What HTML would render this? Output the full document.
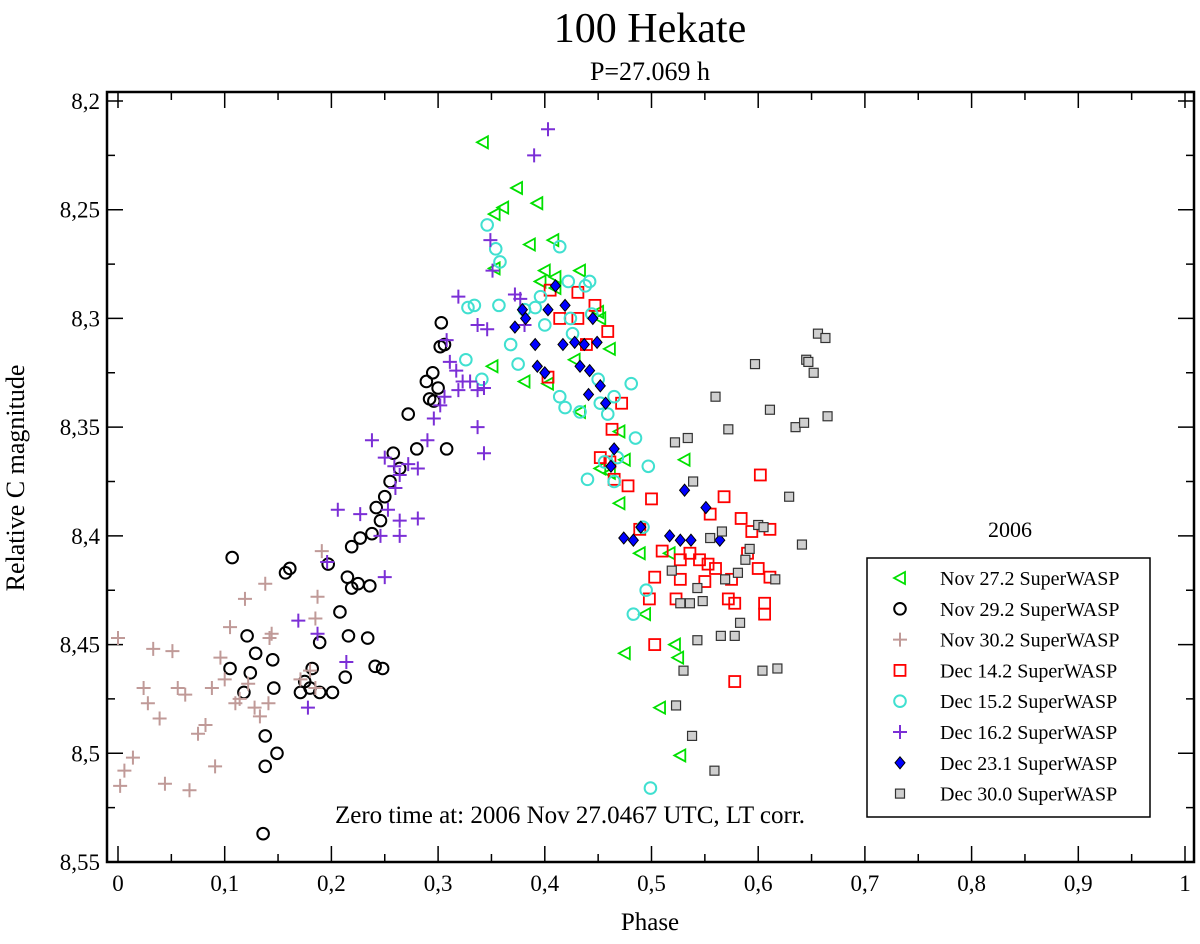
<!DOCTYPE html>
<html><head><meta charset="utf-8"><style>
html,body{margin:0;padding:0;background:#fff;}
svg text{font-family:"Liberation Serif",serif;fill:#000;}
</style></head><body>
<svg id="chart" width="1200" height="939" viewBox="0 0 1200 939" xmlns="http://www.w3.org/2000/svg">
<text x="650" y="42" font-size="42" text-anchor="middle">100 Hekate</text>
<text x="650" y="80" font-size="26" text-anchor="middle">P=27.069 h</text>
<text transform="translate(24,478) rotate(-90)" font-size="26" text-anchor="middle">Relative C magnitude</text>
<text x="650" y="930" font-size="25" text-anchor="middle">Phase</text>
<g id="axes"></g>
<g id="marks"></g>
<text x="570" y="823" font-size="25" text-anchor="middle">Zero time at: 2006 Nov 27.0467 UTC, LT corr.</text>
<text x="1010" y="537" font-size="22" text-anchor="middle">2006</text>
<rect x="867" y="558" width="283" height="259" fill="#fff" stroke="#000" stroke-width="1.5"/>
<g id="legend"></g>
</svg>
<script>
const xTicks=[0,0.1,0.2,0.3,0.4,0.5,0.6,0.7,0.8,0.9,1];
const xTickLabels=["0","0,1","0,2","0,3","0,4","0,5","0,6","0,7","0,8","0,9","1"];
const yTicks=[8.2,8.25,8.3,8.35,8.4,8.45,8.5,8.55];
const yTickLabels=["8,2","8,25","8,3","8,35","8,4","8,45","8,5","8,55"];
const seriesNames=["Nov 27.2 SuperWASP","Nov 29.2 SuperWASP","Nov 30.2 SuperWASP","Dec 14.2 SuperWASP","Dec 15.2 SuperWASP","Dec 16.2 SuperWASP","Dec 23.1 SuperWASP","Dec 30.0 SuperWASP"];
const nov27=[[0.342,8.219],[0.374,8.240],[0.361,8.249],[0.393,8.247],[0.353,8.252],[0.386,8.266],[0.408,8.264],[0.353,8.277],[0.400,8.278],[0.433,8.278],[0.396,8.283],[0.410,8.281],[0.410,8.286],[0.450,8.297],[0.452,8.300],[0.461,8.314],[0.381,8.329],[0.351,8.322],[0.428,8.319],[0.403,8.330],[0.433,8.343],[0.470,8.352],[0.452,8.369],[0.461,8.371],[0.475,8.365],[0.531,8.365],[0.470,8.385],[0.489,8.408],[0.517,8.408],[0.494,8.436],[0.522,8.450],[0.525,8.456],[0.475,8.454],[0.508,8.479],[0.527,8.501]];
const nov29=[[0.107,8.410],[0.121,8.446],[0.105,8.461],[0.129,8.454],[0.124,8.463],[0.145,8.457],[0.146,8.470],[0.118,8.472],[0.138,8.492],[0.149,8.500],[0.138,8.506],[0.157,8.417],[0.161,8.415],[0.171,8.472],[0.180,8.470],[0.189,8.472],[0.201,8.472],[0.182,8.461],[0.175,8.467],[0.189,8.449],[0.197,8.413],[0.208,8.435],[0.213,8.465],[0.216,8.446],[0.234,8.447],[0.241,8.460],[0.248,8.461],[0.219,8.405],[0.227,8.401],[0.238,8.399],[0.242,8.387],[0.246,8.393],[0.250,8.382],[0.255,8.375],[0.258,8.362],[0.264,8.369],[0.272,8.344],[0.280,8.360],[0.289,8.329],[0.292,8.337],[0.295,8.325],[0.296,8.338],[0.300,8.332],[0.302,8.313],[0.303,8.302],[0.306,8.312],[0.308,8.360],[0.136,8.537],[0.215,8.419],[0.219,8.424],[0.225,8.422],[0.236,8.423]];
const nov30=[[0,8.447],[0.002,8.515],[0.006,8.508],[0.014,8.502],[0.024,8.470],[0.028,8.477],[0.033,8.452],[0.039,8.484],[0.044,8.514],[0.051,8.453],[0.056,8.470],[0.063,8.473],[0.067,8.517],[0.075,8.491],[0.082,8.487],[0.088,8.470],[0.091,8.506],[0.096,8.456],[0.100,8.466],[0.105,8.442],[0.110,8.477],[0.114,8.475],[0.119,8.429],[0.122,8.468],[0.128,8.479],[0.133,8.483],[0.138,8.422],[0.142,8.447],[0.144,8.445],[0.141,8.477],[0.180,8.462],[0.187,8.428],[0.191,8.407],[0.185,8.438],[0.171,8.466],[0.185,8.470]];
const dec14=[[0.405,8.287],[0.431,8.288],[0.414,8.300],[0.431,8.300],[0.447,8.294],[0.459,8.306],[0.439,8.312],[0.403,8.327],[0.472,8.339],[0.463,8.351],[0.452,8.364],[0.461,8.366],[0.465,8.374],[0.478,8.377],[0.500,8.383],[0.489,8.397],[0.510,8.407],[0.503,8.419],[0.527,8.411],[0.536,8.408],[0.545,8.411],[0.553,8.413],[0.560,8.415],[0.527,8.420],[0.550,8.421],[0.575,8.420],[0.498,8.429],[0.523,8.429],[0.555,8.390],[0.568,8.382],[0.572,8.429],[0.578,8.431],[0.584,8.392],[0.594,8.398],[0.590,8.408],[0.602,8.372],[0.600,8.415],[0.606,8.431],[0.606,8.436],[0.611,8.419],[0.503,8.450],[0.578,8.467],[0.611,8.397]];
const dec15=[[0.346,8.257],[0.354,8.268],[0.358,8.274],[0.328,8.295],[0.334,8.294],[0.357,8.294],[0.326,8.319],[0.341,8.328],[0.368,8.312],[0.375,8.321],[0.381,8.296],[0.391,8.295],[0.396,8.290],[0.400,8.303],[0.414,8.267],[0.422,8.283],[0.438,8.285],[0.442,8.283],[0.444,8.298],[0.424,8.300],[0.426,8.307],[0.419,8.341],[0.433,8.343],[0.452,8.339],[0.450,8.328],[0.459,8.344],[0.465,8.336],[0.481,8.330],[0.485,8.355],[0.456,8.366],[0.468,8.364],[0.497,8.368],[0.465,8.375],[0.440,8.374],[0.492,8.396],[0.495,8.425],[0.483,8.436],[0.499,8.516],[0.414,8.336]];
const dec16=[[0.403,8.213],[0.390,8.225],[0.349,8.264],[0.351,8.278],[0.319,8.290],[0.337,8.303],[0.346,8.305],[0.372,8.289],[0.377,8.291],[0.381,8.303],[0.308,8.310],[0.311,8.320],[0.317,8.324],[0.323,8.329],[0.330,8.329],[0.337,8.333],[0.343,8.332],[0.319,8.333],[0.306,8.336],[0.302,8.340],[0.296,8.346],[0.290,8.356],[0.281,8.369],[0.272,8.367],[0.264,8.372],[0.260,8.378],[0.337,8.350],[0.343,8.362],[0.238,8.356],[0.250,8.364],[0.259,8.368],[0.206,8.388],[0.227,8.390],[0.253,8.388],[0.264,8.393],[0.281,8.392],[0.264,8.400],[0.246,8.400],[0.250,8.419],[0.196,8.412],[0.169,8.439],[0.187,8.445],[0.214,8.458],[0.178,8.479]];
const dec23=[[0.379,8.296],[0.382,8.300],[0.372,8.304],[0.391,8.312],[0.403,8.296],[0.410,8.285],[0.419,8.294],[0.417,8.312],[0.428,8.311],[0.437,8.312],[0.445,8.300],[0.449,8.311],[0.393,8.322],[0.400,8.325],[0.433,8.322],[0.442,8.324],[0.452,8.331],[0.457,8.339],[0.441,8.335],[0.465,8.360],[0.462,8.368],[0.483,8.402],[0.490,8.396],[0.517,8.400],[0.527,8.402],[0.531,8.379],[0.537,8.402],[0.551,8.387],[0.564,8.402],[0.474,8.401]];
const dec30=[[0.522,8.357],[0.534,8.355],[0.539,8.375],[0.519,8.416],[0.527,8.431],[0.536,8.431],[0.543,8.424],[0.548,8.430],[0.555,8.401],[0.560,8.336],[0.572,8.351],[0.566,8.398],[0.569,8.420],[0.581,8.417],[0.578,8.446],[0.583,8.440],[0.588,8.411],[0.592,8.406],[0.597,8.321],[0.600,8.395],[0.605,8.396],[0.611,8.342],[0.616,8.420],[0.618,8.461],[0.604,8.462],[0.629,8.382],[0.635,8.350],[0.641,8.404],[0.643,8.348],[0.645,8.319],[0.647,8.320],[0.652,8.325],[0.656,8.307],[0.663,8.309],[0.665,8.345],[0.523,8.478],[0.538,8.492],[0.559,8.508],[0.530,8.462],[0.543,8.448],[0.565,8.446]];

const L=107,R=1194,T=92,B=862;
const X0=118,X1=1185,Y0=101,Y1=862;
function xs(v){return X0+(v-0)*(X1-X0)/1;}
function ys(v){return Y0+(v-8.2)*(Y1-Y0)/0.35;}
const NS="http://www.w3.org/2000/svg";
function mk(t,a,p){const e=document.createElementNS(NS,t);for(const k in a)e.setAttribute(k,a[k]);p.appendChild(e);return e;}
const axes=document.getElementById('axes');
const frame=mk('rect',{x:L,y:T,width:R-L,height:B-T,fill:'none',stroke:'#000','stroke-width':2.5},axes);


let tp='';
xTicks.forEach((v,i)=>{const x=xs(v);tp+=`M${x},${B}V${B-16}M${x},${T}V${T+16}`;
 if(i<xTicks.length-1){const xm=xs(v+0.05);tp+=`M${xm},${B}V${B-8}M${xm},${T}V${T+8}`;}
 const t=mk('text',{x:x,y:B+29,'font-size':23,'text-anchor':'middle'},axes);t.textContent=xTickLabels[i];
 
 });
yTicks.forEach((v,i)=>{const y=ys(v);tp+=`M${L},${y}H${L+16}M${R},${y}H${R-16}`;
 if(i<yTicks.length-1){const ym=ys(v+0.025);tp+=`M${L},${ym}H${L+8}M${R},${ym}H${R-8}`;}
 const t=mk('text',{x:L-7,y:y+8,'font-size':23,'text-anchor':'end'},axes);t.textContent=yTickLabels[i];
 
 });
const tk=mk('path',{d:tp,stroke:'#000','stroke-width':1.5,fill:'none'},axes);



const styles=[
 {k:'tri',c:'#00e000'},{k:'circ',c:'#000'},{k:'plus',c:'#c09a98'},{k:'sq',c:'#ff0000'},
 {k:'circ',c:'#40e0d0'},{k:'plus',c:'#7b2fd6'},{k:'dia',c:'#0000ff'},{k:'gsq',c:'#555'}];
const allData=[nov27,nov29,nov30,dec14,dec15,dec16,dec23,dec30];
function sym(g,s,x,y){
 let e;
 if(s.k==='tri')e=mk('path',{d:`M${x-6},${y}L${x+5},${y-6}L${x+5},${y+6}Z`,fill:'none',stroke:s.c,'stroke-width':1.8},g);
 else if(s.k==='circ')e=mk('circle',{cx:x,cy:y,r:5.8,fill:'none',stroke:s.c,'stroke-width':2},g);
 else if(s.k==='plus')e=mk('path',{d:`M${x-7},${y}H${x+7}M${x},${y-7}V${y+7}`,stroke:s.c,'stroke-width':2},g);
 else if(s.k==='sq')e=mk('rect',{x:x-5.5,y:y-5.5,width:11,height:11,fill:'none',stroke:s.c,'stroke-width':1.8},g);
 else if(s.k==='dia')e=mk('path',{d:`M${x},${y-6}L${x+5},${y}L${x},${y+6}L${x-5},${y}Z`,fill:'#0000ff',stroke:'#000','stroke-width':1},g);
 else e=mk('rect',{x:x-4.5,y:y-4.5,width:9,height:9,fill:'#cfcfcf',stroke:'#333','stroke-width':1.2},g);
 return e;}
const marks=document.getElementById('marks');
allData.forEach((d,si)=>{
 const g=mk('g',{},marks);
 
 
 d.forEach(p=>{const e=sym(g,styles[si],xs(p[0]),ys(p[1]));
  
  });
});
const lg=document.getElementById('legend');
seriesNames.forEach((n,i)=>{
 const y=578+i*30.8;
 const g=mk('g',{},lg);
 
 
 sym(g,styles[i],900,y);
 const t=mk('text',{x:940,y:y+7,'font-size':20},g);t.textContent=n;});
</script>
</body></html>
